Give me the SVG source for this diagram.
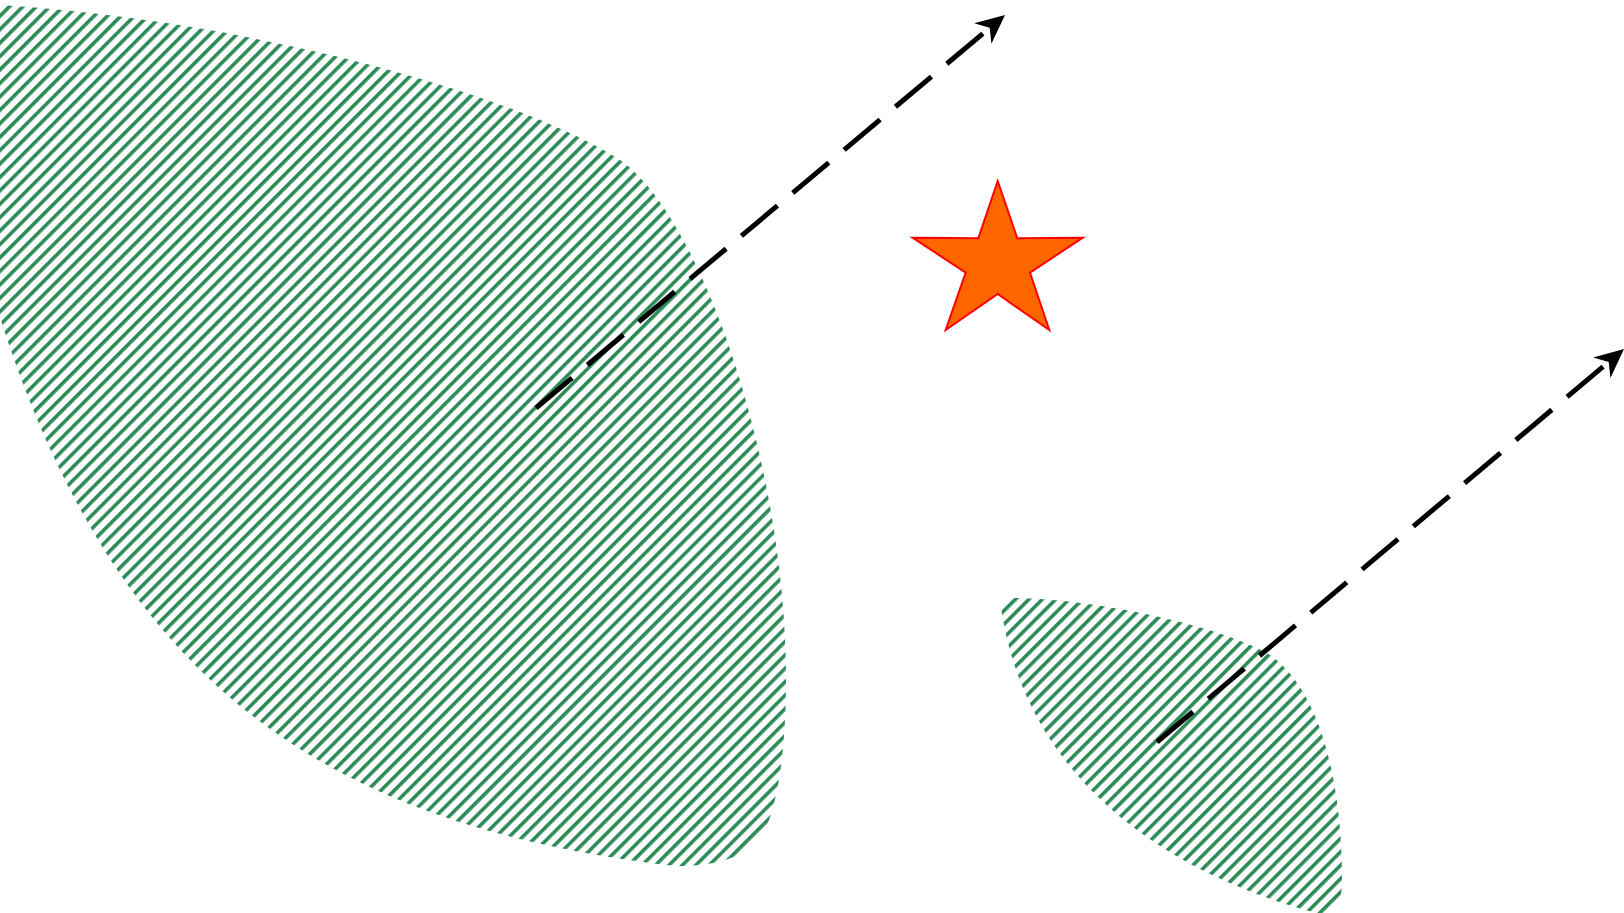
<svg xmlns="http://www.w3.org/2000/svg" width="1624" height="913" viewBox="0 0 1624 913">
  <style>
    .region { fill: url(#hatch); stroke: none; }
    .flow { fill: none; stroke: #000000; stroke-width: 5; stroke-dasharray: 47 20; marker-end: url(#arrow); }
    .star { fill: #ff6600; stroke: #ff0000; stroke-width: 2; stroke-linejoin: miter; }
  </style>
  <defs>
    <pattern id="hatch" patternUnits="userSpaceOnUse" width="9.5" height="9.5" patternTransform="rotate(45)">
      <rect x="0" y="0" width="3.6" height="9.5" fill="#2e8b57"/>
    </pattern>
    <marker id="arrow" markerUnits="userSpaceOnUse" orient="auto" refX="0" refY="0" markerWidth="40" markerHeight="30" viewBox="-15 -15 40 30" overflow="visible">
      <path d="M20,0 L-9,-13.4 L0,0 L-9,13.4 Z" fill="#000000" stroke="none"/>
    </marker>
  </defs>
  <rect x="0" y="0" width="1624" height="913" fill="#ffffff"/>

  <g id="region-large">
    <path class="region" d="M -2,5 C 250,20 520,95 620,160 C 700,215 786,460 786,680 C 786,740 780,795 766,828 C 752,856 720,866 676,866 C 368,830 126,719 0,317 L -2,317 Z"/>
  </g>

  <g id="region-small">
    <path class="region" d="M 1002,614 Q 999,598 1016,598 C 1110,600 1230,630 1270,655 C 1320,690 1342,780 1342,880 C 1342,900 1338,912 1320,914 C 1170,875 1029.5,782.5 1002,614 Z"/>
  </g>

  <g id="star">
    <polygon class="star" points="997.7,181 1017.3,238.3 1082.7,237.7 1030,272.7 1049.3,330 997.7,294 945.7,330 965.7,272.7 912.7,237.7 978.3,238.3"/>
  </g>

  <g id="connectors">
    <line class="flow" x1="536" y1="408" x2="989.7" y2="27.8"/>
    <line class="flow" x1="1157" y1="742" x2="1608.7" y2="361.9"/>
  </g>
</svg>
